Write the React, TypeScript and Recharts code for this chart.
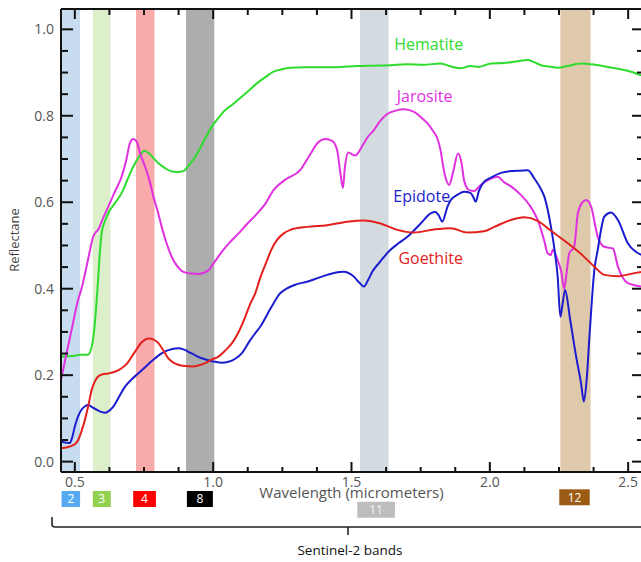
import {
  LineChart,
  Line,
  XAxis,
  YAxis,
  ReferenceArea,
  ReferenceDot,
} from "recharts";

// spectra: [wavelength µm, reflectance]
const hematite: [number, number][] = [
  [0.45, 0.243], [0.5, 0.245], [0.518, 0.247], [0.549, 0.248], [0.561, 0.266],
  [0.57, 0.305], [0.579, 0.374], [0.584, 0.42], [0.59, 0.48], [0.597, 0.529],
  [0.608, 0.555], [0.621, 0.575], [0.645, 0.598], [0.669, 0.621], [0.69, 0.652],
  [0.711, 0.682], [0.735, 0.708], [0.751, 0.719], [0.77, 0.712], [0.79, 0.698],
  [0.81, 0.686], [0.826, 0.679], [0.85, 0.671], [0.872, 0.67], [0.892, 0.672],
  [0.912, 0.685], [0.935, 0.705], [0.965, 0.74], [0.995, 0.775], [1.02, 0.796],
  [1.043, 0.813], [1.07, 0.826], [1.092, 0.838], [1.12, 0.853], [1.158, 0.875],
  [1.19, 0.89], [1.218, 0.902], [1.25, 0.908], [1.279, 0.911], [1.33, 0.912],
  [1.4, 0.912], [1.46, 0.913], [1.52, 0.915], [1.58, 0.916], [1.641, 0.917],
  [1.7, 0.919], [1.76, 0.918], [1.822, 0.921], [1.86, 0.914], [1.895, 0.91],
  [1.93, 0.915], [1.96, 0.913], [2.004, 0.921], [2.05, 0.922], [2.1, 0.926],
  [2.137, 0.929], [2.16, 0.924], [2.185, 0.917], [2.215, 0.914], [2.245, 0.911],
  [2.28, 0.915], [2.33, 0.921], [2.38, 0.918], [2.426, 0.913], [2.47, 0.908],
  [2.51, 0.902], [2.55, 0.893],
];

const jarosite: [number, number][] = [
  [0.45, 0.189], [0.47, 0.25], [0.49, 0.31], [0.51, 0.37], [0.524, 0.4],
  [0.542, 0.45], [0.555, 0.49], [0.566, 0.52], [0.575, 0.53], [0.584, 0.536],
  [0.6, 0.56], [0.621, 0.59], [0.645, 0.625], [0.669, 0.659], [0.685, 0.695],
  [0.699, 0.736], [0.711, 0.746], [0.724, 0.74], [0.735, 0.715], [0.754, 0.682],
  [0.77, 0.65], [0.784, 0.613], [0.8, 0.578], [0.814, 0.543], [0.83, 0.508],
  [0.85, 0.474], [0.87, 0.452], [0.892, 0.439], [0.92, 0.435], [0.947, 0.434],
  [0.983, 0.443], [1.005, 0.462], [1.032, 0.486], [1.06, 0.507], [1.092, 0.528],
  [1.12, 0.548], [1.152, 0.569], [1.19, 0.598], [1.218, 0.628], [1.26, 0.652],
  [1.315, 0.675], [1.35, 0.71], [1.376, 0.736], [1.406, 0.746], [1.43, 0.742],
  [1.448, 0.721], [1.46, 0.667], [1.469, 0.633], [1.476, 0.68], [1.488, 0.715],
  [1.514, 0.708], [1.539, 0.73], [1.56, 0.752], [1.581, 0.767], [1.6, 0.785],
  [1.629, 0.804], [1.66, 0.812], [1.69, 0.815], [1.726, 0.809], [1.75, 0.797],
  [1.774, 0.783], [1.795, 0.765], [1.81, 0.748], [1.822, 0.72], [1.832, 0.68],
  [1.841, 0.655], [1.853, 0.64], [1.868, 0.672], [1.885, 0.713], [1.898, 0.69],
  [1.907, 0.65], [1.925, 0.628], [1.943, 0.626], [1.967, 0.64], [2.004, 0.655],
  [2.028, 0.659], [2.052, 0.646], [2.08, 0.635], [2.112, 0.617], [2.145, 0.592],
  [2.173, 0.559], [2.197, 0.51], [2.209, 0.482], [2.221, 0.478], [2.227, 0.49],
  [2.245, 0.466], [2.258, 0.44], [2.269, 0.4], [2.278, 0.44], [2.287, 0.482],
  [2.305, 0.497], [2.318, 0.574], [2.335, 0.6], [2.348, 0.605], [2.366, 0.59],
  [2.39, 0.52], [2.414, 0.497], [2.445, 0.493], [2.463, 0.451], [2.499, 0.413],
  [2.55, 0.405],
];

const epidote: [number, number][] = [
  [0.45, 0.046], [0.482, 0.043], [0.49, 0.055], [0.5, 0.081], [0.512, 0.105],
  [0.524, 0.12], [0.537, 0.128], [0.549, 0.131], [0.562, 0.126], [0.579, 0.12],
  [0.595, 0.115], [0.609, 0.113], [0.625, 0.118], [0.639, 0.127], [0.66, 0.15],
  [0.681, 0.173], [0.705, 0.19], [0.729, 0.204], [0.76, 0.222], [0.79, 0.239],
  [0.815, 0.251], [0.838, 0.258], [0.874, 0.262], [0.895, 0.259], [0.911, 0.254],
  [0.935, 0.246], [0.959, 0.239], [0.985, 0.234], [1.007, 0.231], [1.03, 0.229],
  [1.055, 0.231], [1.08, 0.238], [1.104, 0.251], [1.134, 0.281], [1.152, 0.297],
  [1.17, 0.312], [1.195, 0.34], [1.218, 0.366], [1.24, 0.388], [1.267, 0.401],
  [1.3, 0.41], [1.339, 0.416], [1.38, 0.425], [1.412, 0.432], [1.44, 0.437],
  [1.472, 0.439], [1.508, 0.428], [1.53, 0.413], [1.545, 0.405], [1.56, 0.42],
  [1.575, 0.439], [1.6, 0.46], [1.641, 0.49], [1.67, 0.505], [1.702, 0.52],
  [1.75, 0.551], [1.786, 0.574], [1.802, 0.578], [1.815, 0.57], [1.828, 0.555],
  [1.84, 0.575], [1.847, 0.59], [1.859, 0.605], [1.885, 0.618], [1.907, 0.624],
  [1.931, 0.621], [1.94, 0.612], [1.949, 0.601], [1.96, 0.625], [1.976, 0.645],
  [2.004, 0.657], [2.04, 0.668], [2.076, 0.672], [2.11, 0.673], [2.137, 0.674],
  [2.161, 0.655], [2.185, 0.63], [2.197, 0.613], [2.221, 0.543], [2.236, 0.48],
  [2.245, 0.43], [2.255, 0.335], [2.263, 0.365], [2.272, 0.397], [2.29, 0.33],
  [2.31, 0.25], [2.33, 0.18], [2.34, 0.139], [2.35, 0.19], [2.36, 0.289],
  [2.378, 0.444], [2.39, 0.49], [2.414, 0.567], [2.438, 0.576], [2.463, 0.559],
  [2.499, 0.505], [2.536, 0.482], [2.55, 0.478],
];

const goethite: [number, number][] = [
  [0.45, 0.031], [0.482, 0.035], [0.5, 0.04], [0.512, 0.05], [0.524, 0.07],
  [0.536, 0.096], [0.549, 0.13], [0.561, 0.166], [0.572, 0.185], [0.584, 0.197],
  [0.6, 0.202], [0.621, 0.204], [0.645, 0.208], [0.669, 0.216], [0.69, 0.228],
  [0.717, 0.254], [0.742, 0.276], [0.766, 0.285], [0.785, 0.282], [0.802, 0.274],
  [0.82, 0.257], [0.838, 0.239], [0.856, 0.229], [0.874, 0.224], [0.9, 0.221],
  [0.923, 0.22], [0.95, 0.223], [0.971, 0.228], [0.995, 0.236], [1.019, 0.243],
  [1.045, 0.258], [1.068, 0.274], [1.092, 0.3], [1.116, 0.335], [1.134, 0.365],
  [1.152, 0.389], [1.17, 0.425], [1.195, 0.466], [1.21, 0.49], [1.231, 0.513],
  [1.255, 0.528], [1.279, 0.536], [1.339, 0.543], [1.412, 0.547], [1.484, 0.555],
  [1.545, 0.558], [1.605, 0.551], [1.666, 0.536], [1.726, 0.53], [1.798, 0.537],
  [1.859, 0.54], [1.919, 0.53], [1.979, 0.533], [2.016, 0.543], [2.076, 0.559],
  [2.124, 0.565], [2.173, 0.557], [2.221, 0.534], [2.282, 0.505], [2.33, 0.48],
  [2.378, 0.451], [2.414, 0.432], [2.463, 0.429], [2.523, 0.436], [2.55, 0.439],
];

// Sentinel-2 bands: shaded columns in the plot and the labelled boxes below it
const bandNames = ["2", "3", "4", "8", "11", "12"];
const bandStart = [0.45, 0.565, 0.721, 0.902, 1.531, 2.255];
const bandEnd = [0.519, 0.629, 0.788, 1.004, 1.634, 2.364];
const bandShade = ["#c7dcef", "#ddeecb", "#f9aaaa", "#adadad", "#d3dae0", "#dfc9ab"];
const boxStart = [0.452, 0.565, 0.711, 0.905, 1.521, 2.251];
const boxEnd = [0.519, 0.63, 0.793, 0.999, 1.657, 2.361];
const boxTop = [-0.068, -0.068, -0.068, -0.068, -0.093, -0.064];
const boxBottom = [-0.105, -0.105, -0.105, -0.105, -0.13, -0.101];
const boxColor = ["#58aaf0", "#92d050", "#ff0000", "#000000", "#bdbdbd", "#9c5b14"];

const xTicks = [
  0.5, 0.625, 0.75, 0.875, 1, 1.125, 1.25, 1.375, 1.5, 1.625, 1.75, 1.875, 2,
  2.125, 2.25, 2.375, 2.5,
];
const yTicks = [
  0, 0.05, 0.1, 0.15, 0.2, 0.25, 0.3, 0.35, 0.4, 0.45, 0.5, 0.55, 0.6, 0.65,
  0.7, 0.75, 0.8, 0.85, 0.9, 0.95, 1,
];

const series = [
  { name: "Hematite", points: hematite, color: "#2edc2e", labelX: 1.779, labelY: 0.966 },
  { name: "Jarosite", points: jarosite, color: "#e030e0", labelX: 1.764, labelY: 0.845 },
  { name: "Epidote", points: epidote, color: "#1c1ccf", labelX: 1.754, labelY: 0.614 },
  { name: "Goethite", points: goethite, color: "#e2201c", labelX: 1.786, labelY: 0.471 },
];

const FONT = "'Open Sans', sans-serif";
const TICK_COLOR = "#555";

const toRows = (pts: [number, number][]) => pts.map(([w, r]) => ({ w, r }));
const isMajorX = (v: number) => Math.abs(v * 2 - Math.round(v * 2)) < 1e-6;
const isMajorY = (v: number) => Math.abs(v * 5 - Math.round(v * 5)) < 1e-6;

const BottomTick = ({ x, y, payload }: any) => {
  const major = isMajorX(payload.value);
  return (
    <g>
      <line x1={x} y1={y} x2={x} y2={y - (major ? 10 : 5)} stroke="#111" strokeWidth={2} />
      {major && (
        <text x={x} y={y + 15} textAnchor="middle" fontSize={14} fontFamily={FONT} fill={TICK_COLOR}>
          {payload.value.toFixed(1)}
        </text>
      )}
    </g>
  );
};

const TopTick = ({ x, y, payload }: any) => {
  const major = isMajorX(payload.value);
  return <line x1={x} y1={y} x2={x} y2={y + (major ? 10 : 6)} stroke="#111" strokeWidth={2} />;
};

const LeftTick = ({ x, y, payload }: any) => {
  const major = isMajorY(payload.value);
  return (
    <g>
      <line x1={x} y1={y} x2={x + (major ? 12 : 7)} y2={y} stroke="#111" strokeWidth={2} />
      {major && (
        <text x={x - 7} y={y + 5} textAnchor="end" fontSize={14} fontFamily={FONT} fill={TICK_COLOR}>
          {payload.value.toFixed(1)}
        </text>
      )}
    </g>
  );
};

const RightTick = ({ x, y, payload }: any) => {
  const major = isMajorY(payload.value);
  return <line x1={x} y1={y} x2={x - (major ? 10 : 5)} y2={y} stroke="#111" strokeWidth={2} />;
};

const X_DOMAIN: [number, number] = [0.45, 2.55];
const Y_DOMAIN: [number, number] = [-0.024, 1.047];

export default function App() {
  return (
    <div
      style={{
        position: "absolute",
        left: 0,
        top: 0,
        width: 641,
        height: 562,
        overflow: "hidden",
        background: "#fff",
      }}
    >
      <LineChart width={650} height={562} margin={{ top: 0, right: 0, bottom: 0, left: 0 }}>
        <XAxis
          dataKey="w"
          type="number"
          domain={X_DOMAIN}
          allowDataOverflow
          ticks={xTicks}
          interval={0}
          height={90}
          tickSize={0}
          tickMargin={0}
          tickLine={false}
          tick={<BottomTick />}
          axisLine={{ stroke: "#111", strokeWidth: 2 }}
          label={{
            value: "Wavelength (micrometers)",
            position: "insideTop",
            offset: 15,
            fill: TICK_COLOR,
            fontSize: 15,
            fontFamily: FONT,
          }}
        />
        <XAxis
          xAxisId="top"
          orientation="top"
          dataKey="w"
          type="number"
          domain={X_DOMAIN}
          allowDataOverflow
          ticks={xTicks}
          interval={0}
          height={9}
          tickSize={0}
          tickMargin={0}
          tickLine={false}
          tick={<TopTick />}
          axisLine={{ stroke: "#111", strokeWidth: 2 }}
        />
        <YAxis
          type="number"
          domain={Y_DOMAIN}
          allowDataOverflow
          ticks={yTicks}
          interval={0}
          width={61}
          tickSize={0}
          tickMargin={0}
          tickLine={false}
          tick={<LeftTick />}
          axisLine={{ stroke: "#111", strokeWidth: 2 }}
        />
        <YAxis
          yAxisId="right"
          orientation="right"
          type="number"
          domain={Y_DOMAIN}
          allowDataOverflow
          ticks={yTicks}
          interval={0}
          width={8}
          tickSize={0}
          tickMargin={0}
          tickLine={false}
          tick={<RightTick />}
          axisLine={{ stroke: "#111", strokeWidth: 2 }}
        />

        {bandNames.map((b, i) => (
          <ReferenceArea
            key={`shade-${b}`}
            x1={bandStart[i]}
            x2={bandEnd[i]}
            fill={bandShade[i]}
            fillOpacity={1}
            stroke="none"
          />
        ))}
        {bandNames.map((b, i) => (
          <ReferenceArea
            key={`box-${b}`}
            x1={boxStart[i]}
            x2={boxEnd[i]}
            y1={boxBottom[i]}
            y2={boxTop[i]}
            ifOverflow="visible"
            fill={boxColor[i]}
            fillOpacity={1}
            stroke="none"
            label={{
              value: b,
              position: "center",
              fill: b === "11" ? "#f2f2f2" : "#fff",
              fontSize: 12,
              fontFamily: FONT,
            }}
          />
        ))}

        {series.map((s) => (
          <Line
            key={s.name}
            data={toRows(s.points)}
            dataKey="r"
            type="monotone"
            stroke={s.color}
            strokeWidth={2}
            dot={false}
            activeDot={false}
            isAnimationActive={false}
          />
        ))}

        {series.map((s) => (
          <ReferenceDot
            key={`label-${s.name}`}
            x={s.labelX}
            y={s.labelY}
            r={0}
            fill="none"
            stroke="none"
            label={{
              value: s.name,
              position: "center",
              fill: s.color,
              fontSize: 16,
              fontFamily: FONT,
            }}
          />
        ))}
      </LineChart>

      <svg
        width={641}
        height={562}
        style={{ position: "absolute", left: 0, top: 0, pointerEvents: "none" }}
      >
        <text
          x={16}
          y={240}
          transform="rotate(-90 16 240)"
          textAnchor="middle"
          dominantBaseline="middle"
          fontSize={13}
          fontFamily={FONT}
          fill="#444"
        >
          Reflectane
        </text>
        <path
          d="M 52 517 L 52 524 Q 52 527 55 527 L 641 527 M 348 527 L 348 535"
          fill="none"
          stroke="#222"
          strokeWidth={1.6}
        />
        <text x={350} y={555} textAnchor="middle" fontSize={13.5} fontFamily={FONT} fill="#111">
          Sentinel-2 bands
        </text>
      </svg>
    </div>
  );
}
